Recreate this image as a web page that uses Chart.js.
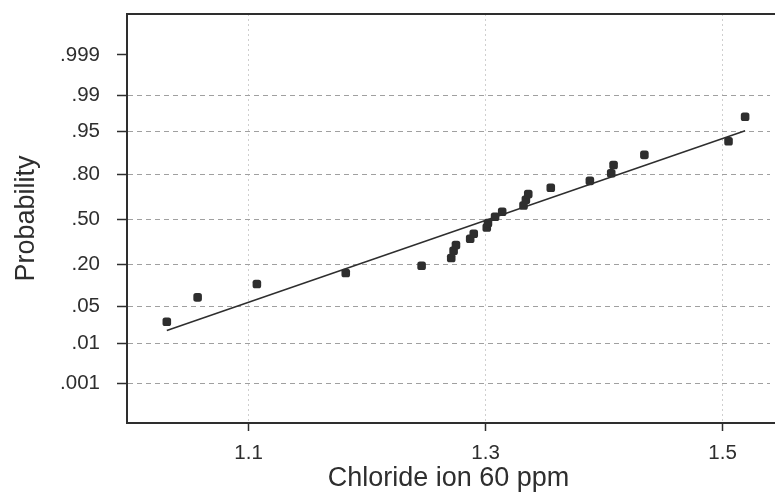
<!DOCTYPE html>
<html>
<head>
<meta charset="utf-8">
<script src="https://cdn.jsdelivr.net/npm/chart.js@4/dist/chart.umd.min.js"></script>
<style>
  html,body{margin:0;padding:0;background:#fff;}
  canvas{display:block;}
</style>
</head>
<body>
<canvas id="chart" width="775" height="493" style="width:775px;height:493px"></canvas>
<script>
// chloride readings (ppm) and their plotted probabilities
const chloride=[1.031,1.057,1.107,1.182,1.246,1.271,1.273,1.275,1.287,1.290,1.301,1.302,1.308,1.314,1.332,1.334,1.336,1.355,1.388,1.406,1.408,1.434,1.505,1.519];
const probability=[0.027,0.071,0.112,0.156,0.191,0.233,0.277,0.314,0.357,0.393,0.439,0.472,0.519,0.556,0.602,0.643,0.682,0.723,0.765,0.807,0.846,0.887,0.929,0.973];
// fitted line ends
const fitX=[1.031,1.519];
const fitProb=[0.0183,0.952];
// axis ticks
const probTicks=[0.001,0.01,0.05,0.20,0.50,0.80,0.95,0.99,0.999];
const probLabels=[".001",".01",".05",".20",".50",".80",".95",".99",".999"];
const xTicks=[1.1,1.3,1.5];

const ink="#2e2e2e";
const font="'Liberation Sans', Arial, sans-serif";

/* inverse normal cdf (Acklam) - maps probability to the normal-score axis */
function probit(p){
  const a=[-39.69683028665376,220.9460984245205,-275.9285104469687,138.3577518672690,-30.66479806614716,2.506628277459239];
  const b=[-54.47609879822406,161.5858368580409,-155.6989798598866,66.80131188771972,-13.28068155288572];
  const c=[-0.007784894002430293,-0.3223964580411365,-2.400758277161838,-2.549732539343734,4.374664141464968,2.938163982698783];
  const d=[0.007784695709041462,0.3224671290700398,2.445134137142996,3.754408661907416];
  const lo=0.02425;
  if(p<lo){const q=Math.sqrt(-2*Math.log(p));return (((((c[0]*q+c[1])*q+c[2])*q+c[3])*q+c[4])*q+c[5])/((((d[0]*q+d[1])*q+d[2])*q+d[3])*q+1);}
  if(p>1-lo){const q=Math.sqrt(-2*Math.log(1-p));return -(((((c[0]*q+c[1])*q+c[2])*q+c[3])*q+c[4])*q+c[5])/((((d[0]*q+d[1])*q+d[2])*q+d[3])*q+1);}
  const q=p-0.5,r=q*q;
  return (((((a[0]*r+a[1])*r+a[2])*r+a[3])*r+a[4])*r+a[5])*q/(((((b[0]*r+b[1])*r+b[2])*r+b[3])*r+b[4])*r+1);
}

/* frame: top line, and both frame lines run on to the page edge (no right side in the original) */
const frame={
  id:"frame",
  afterDraw(chart){
    const {ctx,chartArea:a,width}=chart;
    ctx.save();
    ctx.strokeStyle=ink;ctx.lineWidth=2;
    ctx.beginPath();
    ctx.moveTo(a.left-1,a.top);ctx.lineTo(width,a.top);
    ctx.moveTo(a.right-1,a.bottom);ctx.lineTo(width,a.bottom);
    ctx.stroke();
    ctx.restore();
  }
};

new Chart(document.getElementById("chart"),{
  type:"scatter",
  data:{
    datasets:[
      {
        data:chloride.map((x,i)=>({x,y:probit(probability[i])})),
        pointStyle:"rectRounded",
        pointRadius:5,
        backgroundColor:ink,
        borderColor:ink,
        borderWidth:0
      },
      {
        type:"line",
        data:fitX.map((x,i)=>({x,y:probit(fitProb[i])})),
        borderColor:ink,
        borderWidth:1.5,
        pointRadius:0,
        fill:false
      }
    ]
  },
  options:{
    responsive:false,
    devicePixelRatio:1,
    animation:false,
    layout:{padding:{top:14,left:0,right:0,bottom:0}},
    plugins:{legend:{display:false},tooltip:{enabled:false}},
    scales:{
      x:{
        type:"linear",
        min:0.9974,max:1.540,
        afterFit(s){s.height=70;s.paddingLeft=0;s.paddingRight=0},
        afterBuildTicks(s){s.ticks=xTicks.map(v=>({value:v}))},
        ticks:{color:ink,font:{family:font,size:20.5},padding:10,callback:v=>v.toFixed(1)},
        grid:{color:"#cfcfcf",tickColor:ink,tickLength:8,tickWidth:1.5},
        border:{color:ink,width:2,dash:[2,3]},
        title:{display:true,text:"Chloride ion 60 ppm",color:ink,font:{family:font,size:27},padding:{top:0,bottom:-2}}
      },
      y:{
        type:"linear",
        min:-3.83,max:3.86,
        afterFit(s){s.width=127;s.paddingTop=0;s.paddingBottom=0},
        afterBuildTicks(s){s.ticks=probTicks.map(p=>({value:probit(p)}))},
        ticks:{color:ink,font:{family:font,size:20.5},padding:17,callback:(v,i)=>probLabels[i]},
        grid:{color:c=>c.index===probTicks.length-1?"rgba(0,0,0,0)":"#a0a0a0",tickColor:ink,tickLength:10,tickWidth:1.5},
        border:{color:ink,width:2,dash:[5,4]},
        title:{display:true,text:"Probability",color:ink,font:{family:font,size:27},padding:{top:10,bottom:0}}
      }
    }
  },
  plugins:[frame]
});
</script>
</body>
</html>
